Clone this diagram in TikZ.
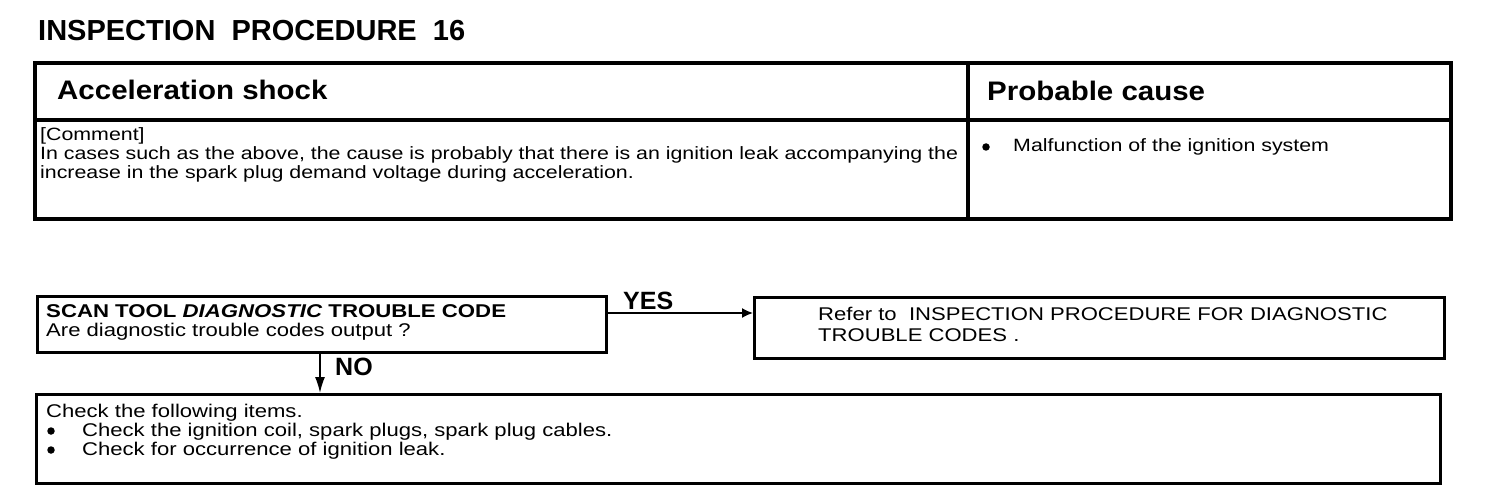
\documentclass[tikz,border=0pt]{standalone}
\usepackage{fontspec}
\setmainfont{Liberation Sans}
\newfontfamily\widefam[FakeStretch=1.2]{Liberation Sans}
\newfontfamily\headfam[FakeStretch=1.1]{Liberation Sans}
\usetikzlibrary{arrows.meta}
\begin{document}
\begin{tikzpicture}[x=1pt,y=-1pt,
  frame/.style={line width=3.2pt},
  box/.style={draw, line width=3pt, anchor=north west, inner sep=0pt},
  conn/.style={line width=1.6pt},
  txt/.style={anchor=base west, inner sep=0pt},
  dot/.style={circle, fill, inner sep=0pt, minimum size=7.5pt},
  titlef/.style={font=\bfseries\fontsize{29}{34}\selectfont},
  headf/.style={font=\headfam\bfseries\fontsize{26.8}{32}\selectfont},
  bodyf/.style={font=\widefam\fontsize{17.8}{20}\selectfont},
  flowf/.style={font=\widefam\fontsize{18.4}{20}\selectfont},
  flowbf/.style={font=\widefam\bfseries\fontsize{18.5}{20}\selectfont},
  labf/.style={font=\bfseries\fontsize{25}{30}\selectfont}]
\useasboundingbox (0,0) rectangle (1504,494);

% title
\node[txt, titlef] (title) at (38,41) {INSPECTION\ \ PROCEDURE\ \ 16};

% table
\draw[frame] (35,63) rectangle (1451,219);
\draw[frame] (35,120) -- (1451,120);
\draw[frame] (968,63) -- (968,219);
\node[txt, headf] (acc) at (57,100) {Acceleration shock};
\node[txt, headf] (pc) at (987,100.5) {Probable cause};
\node[txt, bodyf] (cmt) at (40,141) {[Comment]};
\node[txt, bodyf] (l1) at (40,160) {In cases such as the above, the cause is probably that there is an ignition leak accompanying the};
\node[txt, bodyf] (l2) at (40,179) {increase in the spark plug demand voltage during acceleration.};
\node[dot] (pb) at (986,147) {};
\node[txt, bodyf] (mal) at (1013,152) {Malfunction of the ignition system};

% flow boxes
\node[box, minimum width=569, minimum height=56] (scan) at (36,295) {};
\node[txt, flowbf] (s1) at (46,317) {SCAN TOOL \textit{DIAGNOSTIC} TROUBLE CODE};
\node[txt, flowf] (s2) at (46,336) {Are diagnostic trouble codes output ?};

\node[box, minimum width=690, minimum height=61] (refer) at (753,296) {};
\node[txt, flowf] (r1) at (818,320) {Refer to\ \ INSPECTION PROCEDURE FOR DIAGNOSTIC};
\node[txt, flowf] (r2) at (818,341) {TROUBLE CODES .};

\node[box, minimum width=1404, minimum height=89] (check) at (35,393) {};
\node[txt, flowf] (c1) at (46,417) {Check the following items.};
\node[dot] (b1) at (51,431) {};
\node[txt, flowf] (c2) at (82,436) {Check the ignition coil, spark plugs, spark plug cables.};
\node[dot] (b2) at (51,450) {};
\node[txt, flowf] (c3) at (82,455) {Check for occurrence of ignition leak.};

% connectors
\coordinate (yesy) at (0,313);
\coordinate (nox) at (320,0);
\draw[conn, -{Latex[length=11,width=10]}] (scan.east |- yesy) -- (refer.west |- yesy);
\draw[conn, -{Latex[length=16,width=10]}] (scan.south -| nox) -- (check.north -| nox);
\node[txt, labf] (yes) at (623,309) {YES};
\node[txt, labf] (no) at (335,375) {NO};
\end{tikzpicture}
\end{document}
